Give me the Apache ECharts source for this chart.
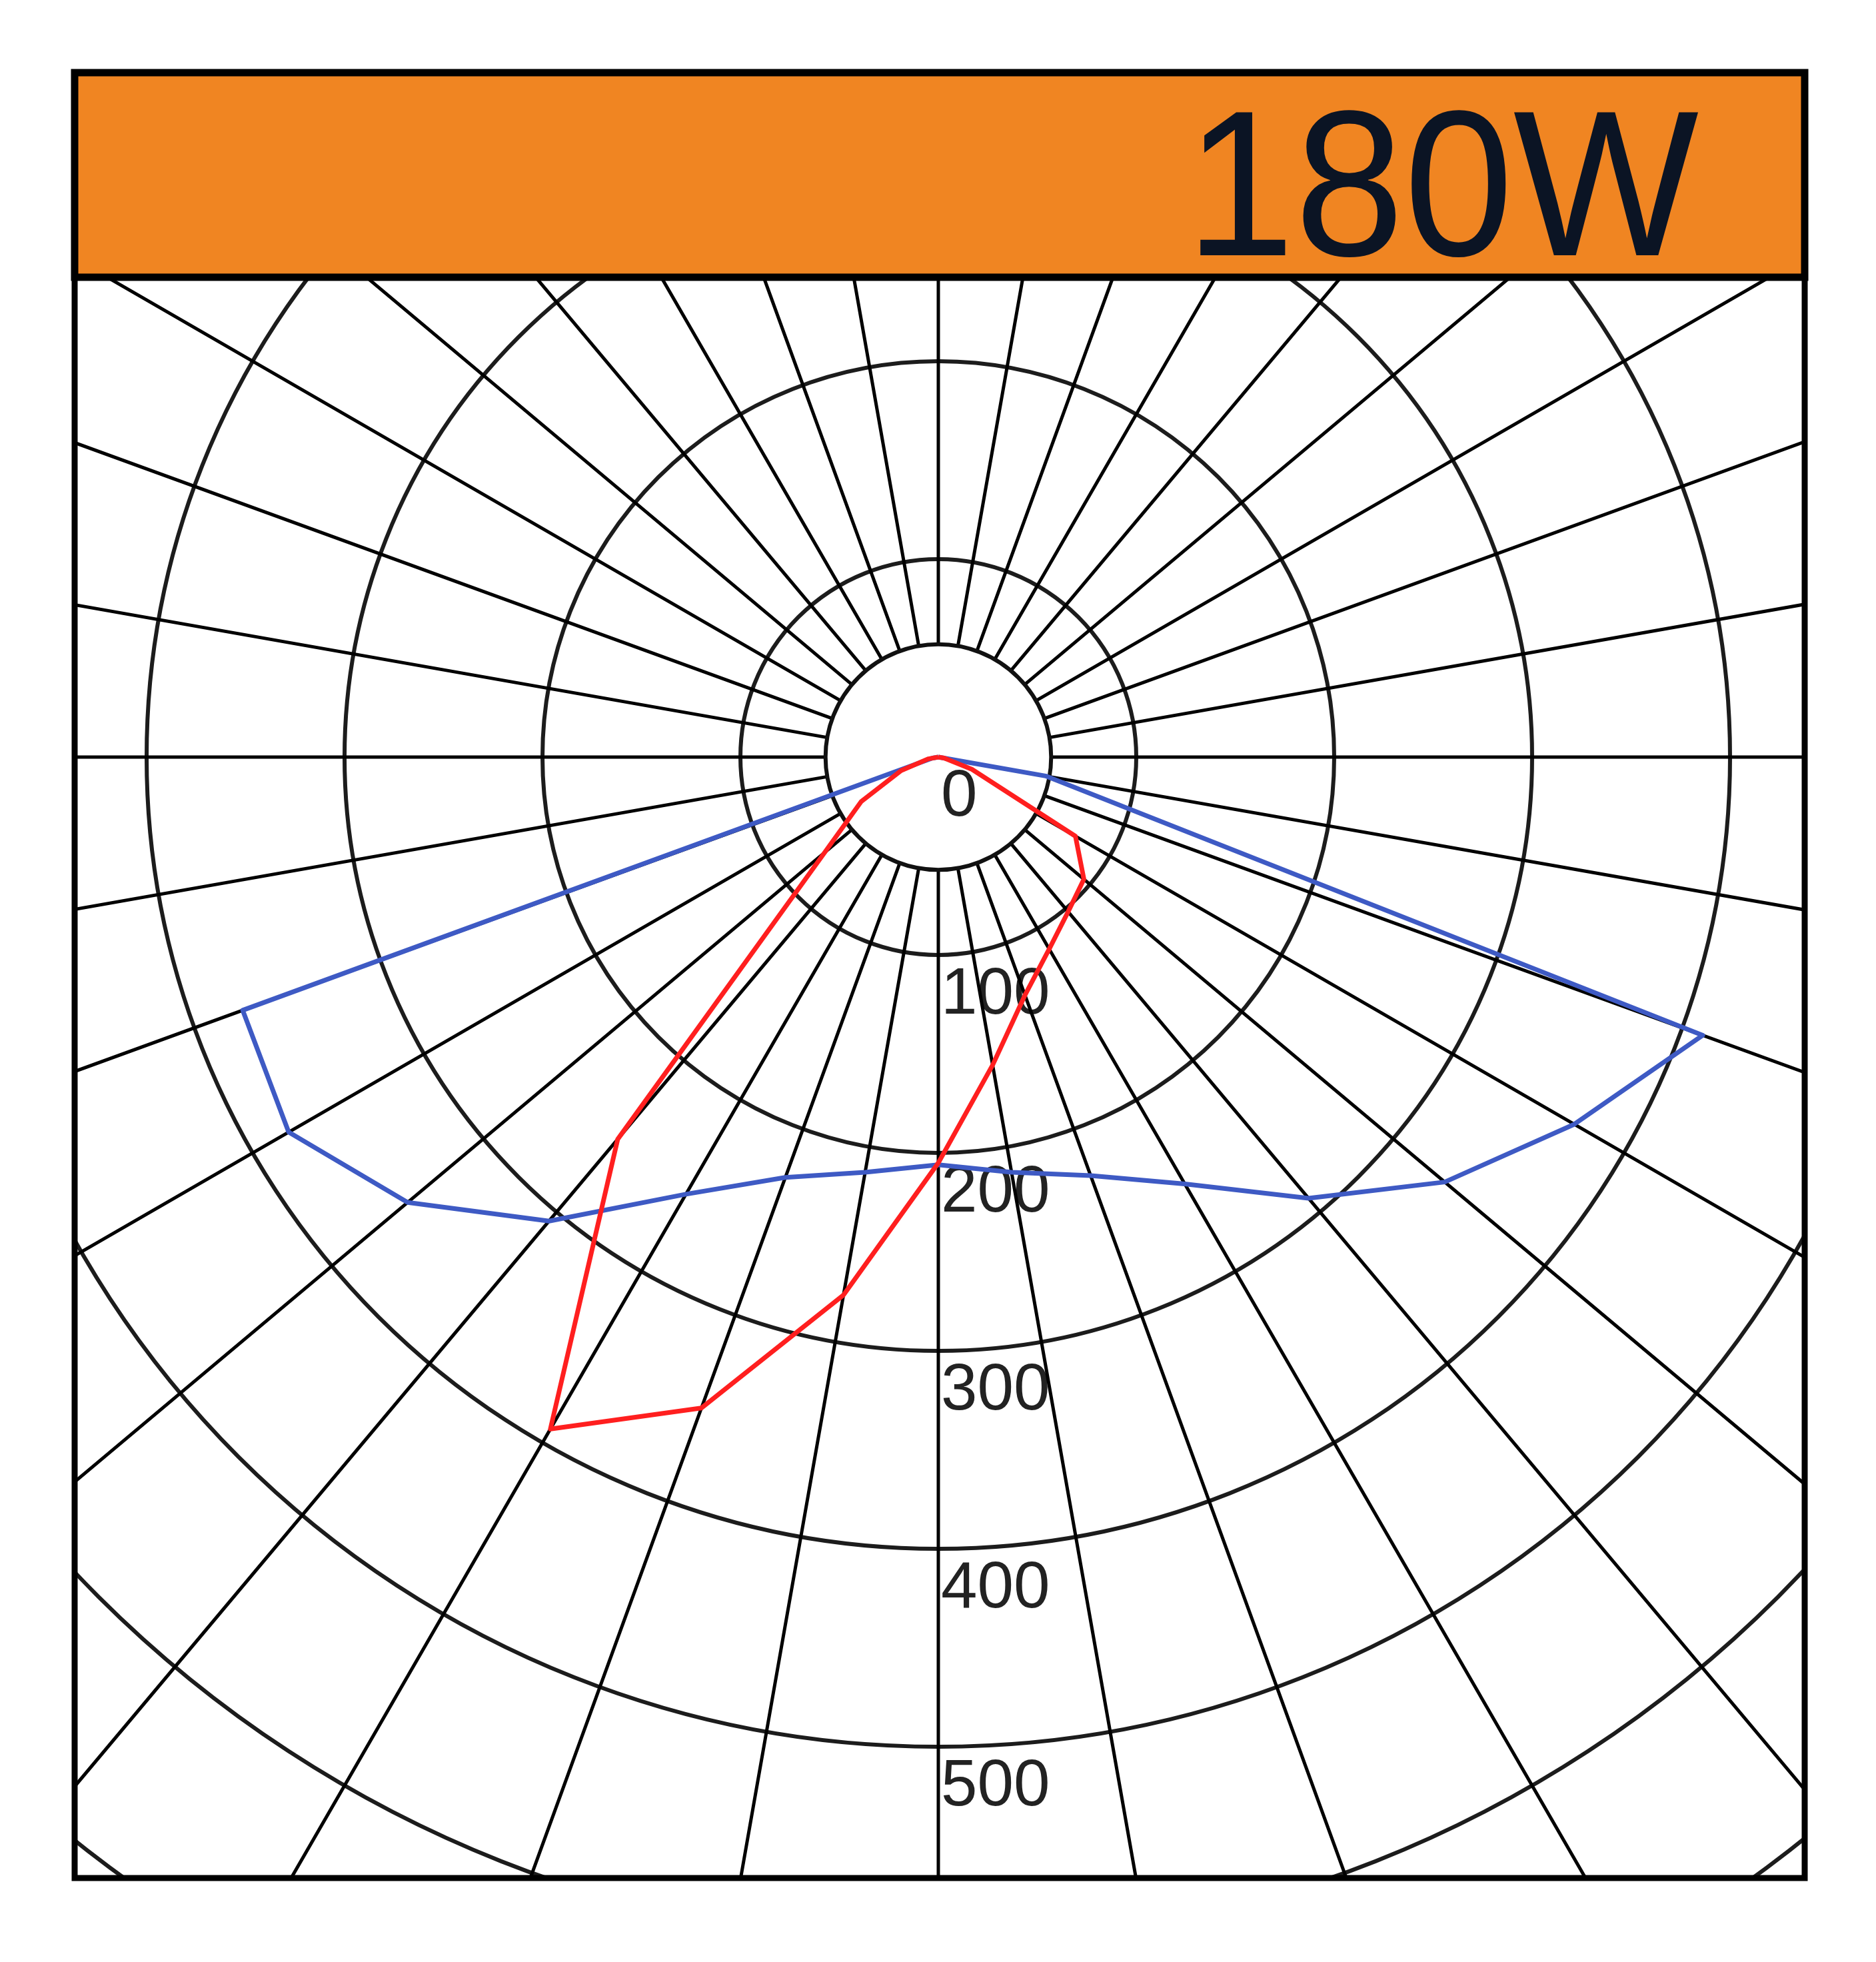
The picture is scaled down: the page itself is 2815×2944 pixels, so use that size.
<!DOCTYPE html>
<html>
<head>
<meta charset="utf-8">
<script src="https://cdn.jsdelivr.net/npm/echarts@6/dist/echarts.min.js"></script>
<style>
html,body{margin:0;padding:0;background:#ffffff;}
#chart{width:2815px;height:2944px;}
</style>
</head>
<body>
<div id="chart"></div>
<script>
// ---------------- data ----------------
const titleText = '180W';
// labelled intensity rings (cd/klm)
const ringLabels = [0, 100, 200, 300, 400, 500];
// radial grid spokes (degrees from nadir)
const spokeAngles = [0, 10, 20, 30, 40, 50, 60, 70, 80, 90, 100, 110, 120, 130, 140, 150, 160, 170,
                     180, 190, 200, 210, 220, 230, 240, 250, 260, 270, 280, 290, 300, 310, 320, 330, 340, 350];
const innerRingValue = 57;   // small inner circle where spokes start
const axisMax = 800;

// blue curve (C0-C180 plane): left half from 90deg down to nadir, right half from nadir up to 90deg
const blueLeftAngles  = [90, 80, 70, 60, 50, 40, 30, 20, 10, 0];
const blueLeftValues  = [0, 3, 374, 379, 350, 306, 255, 226, 213, 206];
const blueRightAngles = [10, 20, 30, 40, 50, 60, 70, 80, 90];
const blueRightValues = [213, 225, 249, 291, 334, 371, 411, 55, 0];

// red curve (C90-C270 plane)
const redLeftAngles  = [90, 80, 70, 60, 50, 40, 30, 20, 10, 0];
const redLeftValues  = [0, 5, 20, 45, 75, 252, 392, 350, 276, 205];
const redRightAngles = [10, 20, 30, 40, 50, 60, 70, 80, 90];
const redRightValues = [158, 128, 112, 102, 96, 80, 18, 3, 0];

// ---------------- layout ----------------
const W = 2815, H = 2944;
const CX = 1408, CY = 1136;
const UNIT = 2.97;                 // px per cd/klm
const R = axisMax * UNIT;
const BOX = {x1: 112, y1: 109, x2: 2708, y2: 2818};
const HEADER_BOTTOM = 416;

function leftSide(vals, angs) { return vals.map((v, i) => [v, angs[i] === 0 ? 360 : 360 - angs[i]]); }
function rightSide(vals, angs) { return vals.map((v, i) => [v, angs[i]]); }

const blueData = leftSide(blueLeftValues, blueLeftAngles).concat(rightSide(blueRightValues, blueRightAngles));
const redData  = leftSide(redLeftValues, redLeftAngles).concat(rightSide(redRightValues, redRightAngles));

const spokeData = [];
spokeAngles.forEach(a => {
  spokeData.push([innerRingValue, a]);
  spokeData.push([axisMax, a]);
  spokeData.push(null);
});

const chart = echarts.init(document.getElementById('chart'), null, {renderer: 'canvas', width: W, height: H});

const option = {
  animation: false,
  backgroundColor: '#ffffff',
  polar: { center: [CX, CY], radius: R },
  angleAxis: {
    type: 'value', min: 0, max: 360, startAngle: 270, clockwise: false,
    axisLine: {show: false}, axisTick: {show: false}, axisLabel: {show: false},
    splitLine: {show: false}
  },
  radiusAxis: {
    type: 'value', min: 0, max: axisMax, interval: 100,
    axisLine: {show: false}, axisTick: {show: false},
    splitLine: {show: true, lineStyle: {color: '#1c1c1c', width: 6}},
    axisLabel: {
      formatter: v => ringLabels.indexOf(v) >= 0 ? String(v) : '',
      fontFamily: 'Liberation Sans, Arial, sans-serif', fontSize: 98, color: '#222222',
      margin: 4, verticalAlign: 'top', lineHeight: 122
    }
  },
  series: [
    {
      name: 'grid', type: 'line', coordinateSystem: 'polar', data: spokeData,
      symbol: 'none', silent: true, connectNulls: false, clip: false, z: 1,
      lineStyle: {color: '#000000', width: 5}
    },
    {
      name: 'C0-C180', type: 'line', coordinateSystem: 'polar', data: blueData,
      symbol: 'none', clip: false, z: 3,
      lineStyle: {color: '#3e5ac4', width: 7, join: 'round'}
    },
    {
      name: 'C90-C270', type: 'line', coordinateSystem: 'polar', data: redData,
      symbol: 'none', clip: false, z: 4,
      lineStyle: {color: '#ff1f1f', width: 7, join: 'round'}
    }
  ],
  graphic: {
    elements: [
      {type: 'circle', z: 2, silent: true, shape: {cx: CX, cy: CY, r: innerRingValue * UNIT},
       style: {fill: null, stroke: '#111111', lineWidth: 6}},
      // masks outside the frame
      {type: 'rect', z: 100, silent: true, shape: {x: 0, y: 0, width: BOX.x1, height: H}, style: {fill: '#ffffff'}},
      {type: 'rect', z: 100, silent: true, shape: {x: BOX.x2, y: 0, width: W - BOX.x2, height: H}, style: {fill: '#ffffff'}},
      {type: 'rect', z: 100, silent: true, shape: {x: 0, y: 0, width: W, height: HEADER_BOTTOM}, style: {fill: '#ffffff'}},
      {type: 'rect', z: 100, silent: true, shape: {x: 0, y: BOX.y2, width: W, height: H - BOX.y2}, style: {fill: '#ffffff'}},
      // header bar
      {type: 'rect', z: 101, silent: true,
       shape: {x: BOX.x1, y: BOX.y1, width: BOX.x2 - BOX.x1, height: HEADER_BOTTOM - BOX.y1},
       style: {fill: '#f08522', stroke: '#000000', lineWidth: 11}},
      // outer frame
      {type: 'rect', z: 102, silent: true,
       shape: {x: BOX.x1, y: BOX.y1, width: BOX.x2 - BOX.x1, height: BOX.y2 - BOX.y1},
       style: {fill: null, stroke: '#000000', lineWidth: 9}},
      {type: 'text', z: 103, silent: true, x: 2549, y: 297, scaleX: 0.945,
       style: {text: titleText, fill: '#0b1424', font: '312px "Liberation Sans", Arial, sans-serif',
               textAlign: 'right', textVerticalAlign: 'middle'}}
    ]
  }
};
chart.setOption(option);
</script>
</body>
</html>
